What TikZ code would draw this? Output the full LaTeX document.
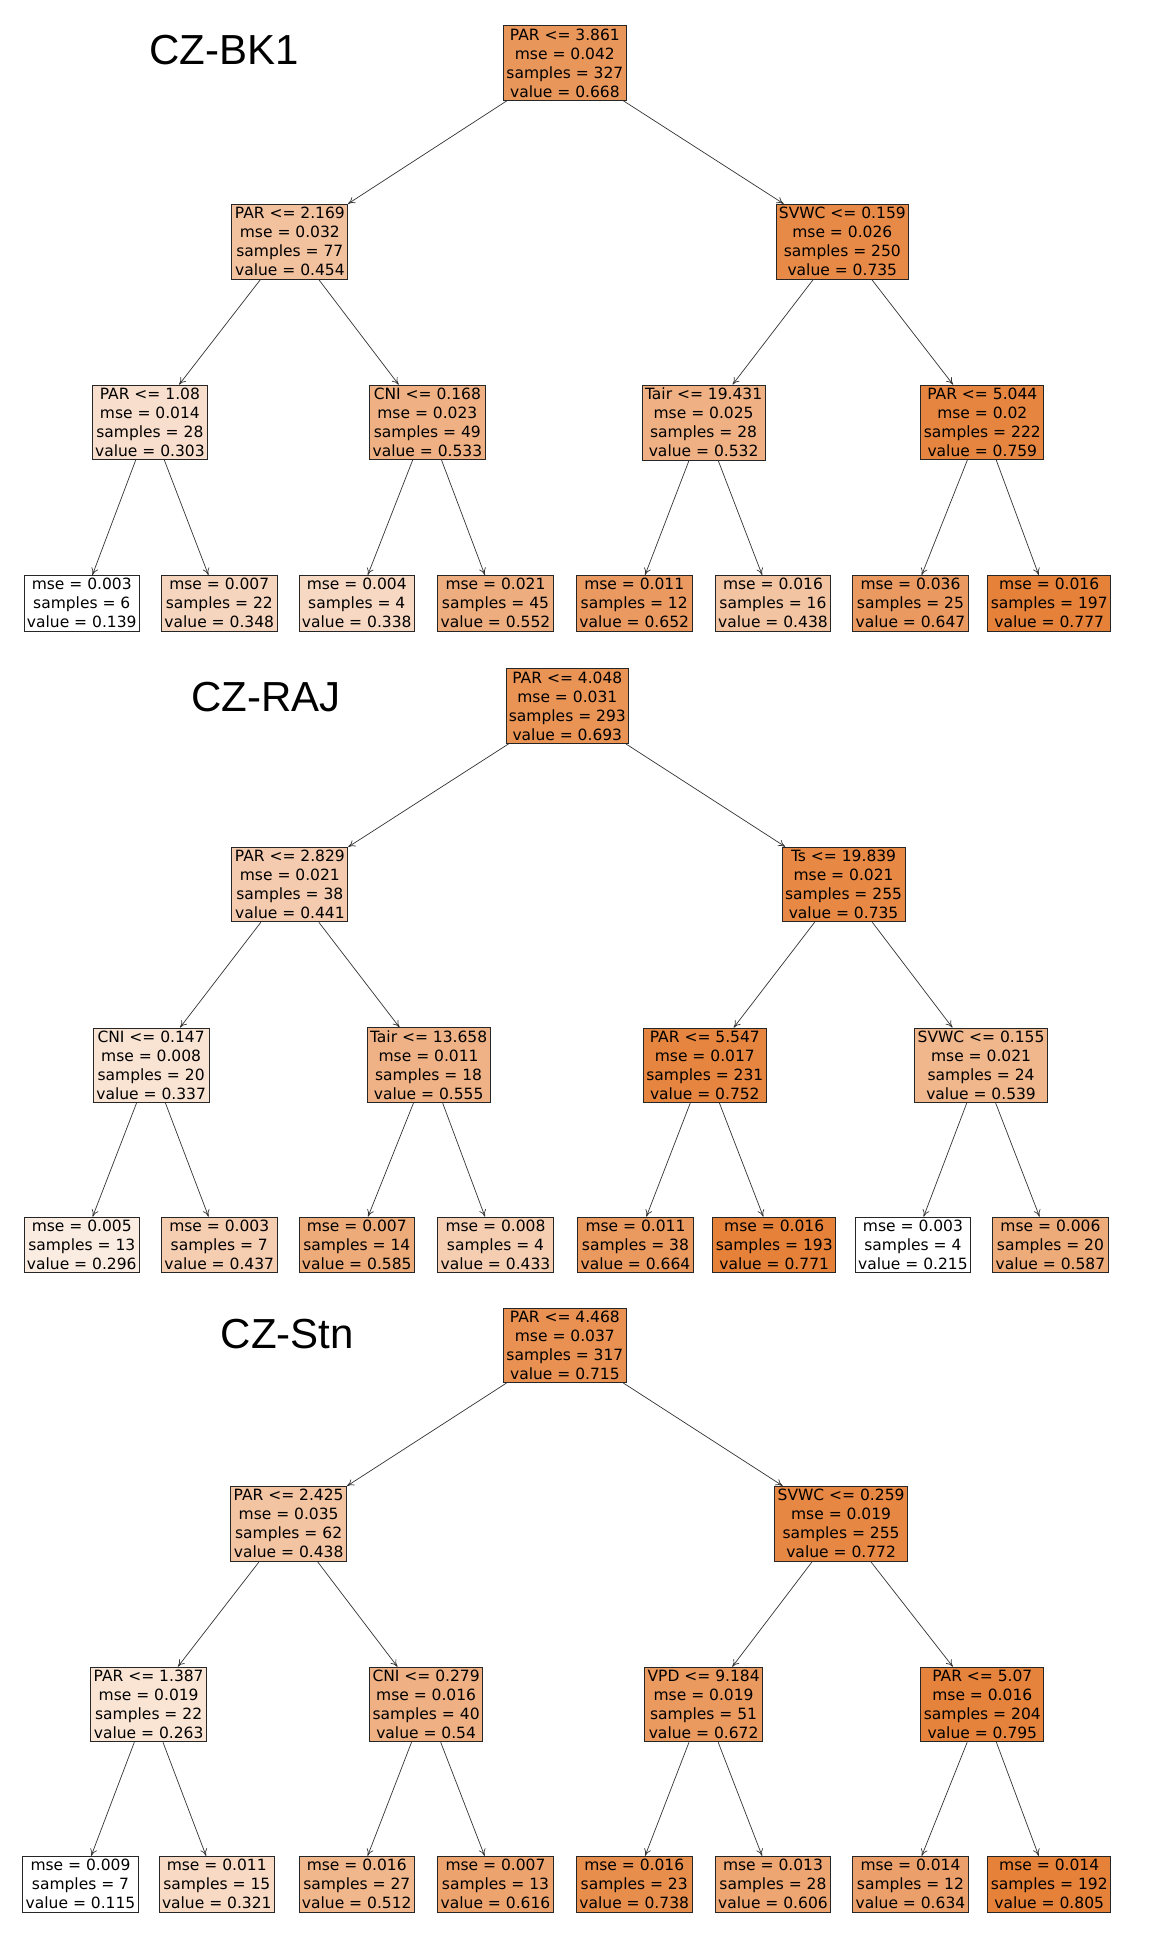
\documentclass[tikz,border=0pt]{standalone}
\usepackage{fontspec}
\setmainfont{DejaVu Sans}
\newfontfamily\titlefont{Liberation Sans}
\usetikzlibrary{arrows.meta}
\definecolor{skor}{HTML}{E58139}
\begin{document}
\begin{tikzpicture}[x=1.2387pt,y=-1.2387pt,
  nd/.style={draw=black!85,line width=0.8pt,align=center,inner sep=3pt,font=\fontsize{15.5}{19}\selectfont},
  ar/.style={draw=black!80,line width=0.7pt,-{To[length=7pt,width=7pt]}},
  ttl/.style={font=\titlefont\fontsize{42}{42}\selectfont}]
\useasboundingbox[fill=white] (0,0) rectangle (930,1573.4);
\newcommand{\nd}[5]{\node[nd,fill=skor!#4!white] (#1) at (#2,#3) {#5};}
% ---- Tree 1
\node[ttl] at (181,40) {CZ-BK1};
\nd{a0}{456}{51}{83}{PAR <= 3.861\\mse = 0.042\\samples = 327\\value = 0.668}
\nd{a1}{234}{195}{49}{PAR <= 2.169\\mse = 0.032\\samples = 77\\value = 0.454}
\nd{a2}{680}{195}{93}{SVWC <= 0.159\\mse = 0.026\\samples = 250\\value = 0.735}
\nd{a3}{121}{341}{26}{PAR <= 1.08\\mse = 0.014\\samples = 28\\value = 0.303}
\nd{a4}{345}{341}{62}{CNI <= 0.168\\mse = 0.023\\samples = 49\\value = 0.533}
\nd{a5}{568}{341}{62}{Tair <= 19.431\\mse = 0.025\\samples = 28\\value = 0.532}
\nd{a6}{793}{341}{97}{PAR <= 5.044\\mse = 0.02\\samples = 222\\value = 0.759}
\nd{a7}{66}{487}{0}{mse = 0.003\\samples = 6\\value = 0.139}
\nd{a8}{177}{487}{33}{mse = 0.007\\samples = 22\\value = 0.348}
\nd{a9}{288}{487}{31}{mse = 0.004\\samples = 4\\value = 0.338}
\nd{a10}{400}{487}{65}{mse = 0.021\\samples = 45\\value = 0.552}
\nd{a11}{512}{487}{80}{mse = 0.011\\samples = 12\\value = 0.652}
\nd{a12}{624}{487}{47}{mse = 0.016\\samples = 16\\value = 0.438}
\nd{a13}{735}{487}{80}{mse = 0.036\\samples = 25\\value = 0.647}
\nd{a14}{847}{487}{100}{mse = 0.016\\samples = 197\\value = 0.777}
% ---- Tree 2
\node[ttl] at (215,563) {CZ-RAJ};
\nd{b0}{458}{570}{86}{PAR <= 4.048\\mse = 0.031\\samples = 293\\value = 0.693}
\nd{b1}{234}{714}{41}{PAR <= 2.829\\mse = 0.021\\samples = 38\\value = 0.441}
\nd{b2}{681}{714}{94}{Ts <= 19.839\\mse = 0.021\\samples = 255\\value = 0.735}
\nd{b3}{122}{860}{22}{CNI <= 0.147\\mse = 0.008\\samples = 20\\value = 0.337}
\nd{b4}{346}{860}{61}{Tair <= 13.658\\mse = 0.011\\samples = 18\\value = 0.555}
\nd{b5}{569}{860}{97}{PAR <= 5.547\\mse = 0.017\\samples = 231\\value = 0.752}
\nd{b6}{792}{860}{58}{SVWC <= 0.155\\mse = 0.021\\samples = 24\\value = 0.539}
\nd{b7}{66}{1005}{15}{mse = 0.005\\samples = 13\\value = 0.296}
\nd{b8}{177}{1005}{40}{mse = 0.003\\samples = 7\\value = 0.437}
\nd{b9}{288}{1005}{67}{mse = 0.007\\samples = 14\\value = 0.585}
\nd{b10}{400}{1005}{39}{mse = 0.008\\samples = 4\\value = 0.433}
\nd{b11}{513}{1005}{81}{mse = 0.011\\samples = 38\\value = 0.664}
\nd{b12}{625}{1005}{100}{mse = 0.016\\samples = 193\\value = 0.771}
\nd{b13}{737}{1005}{0}{mse = 0.003\\samples = 4\\value = 0.215}
\nd{b14}{848}{1005}{67}{mse = 0.006\\samples = 20\\value = 0.587}
% ---- Tree 3
\node[ttl] at (232,1077) {CZ-Stn};
\nd{c0}{456}{1086}{87}{PAR <= 4.468\\mse = 0.037\\samples = 317\\value = 0.715}
\nd{c1}{233}{1230}{47}{PAR <= 2.425\\mse = 0.035\\samples = 62\\value = 0.438}
\nd{c2}{679}{1230}{95}{SVWC <= 0.259\\mse = 0.019\\samples = 255\\value = 0.772}
\nd{c3}{120}{1376}{21}{PAR <= 1.387\\mse = 0.019\\samples = 22\\value = 0.263}
\nd{c4}{344}{1376}{62}{CNI <= 0.279\\mse = 0.016\\samples = 40\\value = 0.54}
\nd{c5}{568}{1376}{81}{VPD <= 9.184\\mse = 0.019\\samples = 51\\value = 0.672}
\nd{c6}{793}{1376}{99}{PAR <= 5.07\\mse = 0.016\\samples = 204\\value = 0.795}
\nd{c7}{65}{1521}{0}{mse = 0.009\\samples = 7\\value = 0.115}
\nd{c8}{175}{1521}{30}{mse = 0.011\\samples = 15\\value = 0.321}
\nd{c9}{288}{1521}{58}{mse = 0.016\\samples = 27\\value = 0.512}
\nd{c10}{400}{1521}{73}{mse = 0.007\\samples = 13\\value = 0.616}
\nd{c11}{512}{1521}{90}{mse = 0.016\\samples = 23\\value = 0.738}
\nd{c12}{624}{1521}{71}{mse = 0.013\\samples = 28\\value = 0.606}
\nd{c13}{735}{1521}{75}{mse = 0.014\\samples = 12\\value = 0.634}
\nd{c14}{847}{1521}{100}{mse = 0.014\\samples = 192\\value = 0.805}
\foreach \t in {a,b,c}{
  \draw[ar] (\t0) -- (\t1); \draw[ar] (\t0) -- (\t2);
  \draw[ar] (\t1) -- (\t3); \draw[ar] (\t1) -- (\t4);
  \draw[ar] (\t2) -- (\t5); \draw[ar] (\t2) -- (\t6);
  \draw[ar] (\t3) -- (\t7); \draw[ar] (\t3) -- (\t8);
  \draw[ar] (\t4) -- (\t9); \draw[ar] (\t4) -- (\t10);
  \draw[ar] (\t5) -- (\t11); \draw[ar] (\t5) -- (\t12);
  \draw[ar] (\t6) -- (\t13); \draw[ar] (\t6) -- (\t14);
}
\end{tikzpicture}
\end{document}
